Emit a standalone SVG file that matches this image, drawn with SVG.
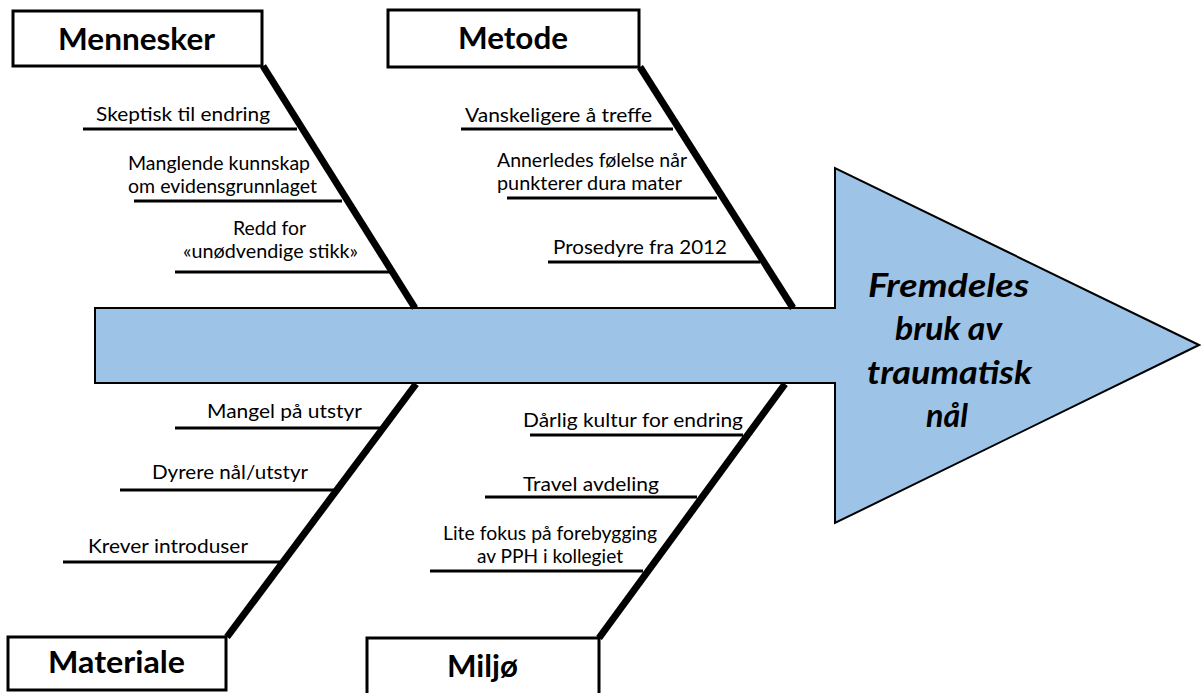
<svg xmlns="http://www.w3.org/2000/svg" width="1201" height="693" viewBox="0 0 1201 693">
<style>
.box{fill:#fff;stroke:#000;stroke-width:3}
.hd{font-family:Lato,"Liberation Sans",sans-serif;font-weight:bold;font-size:30px;fill:#000}
.lb{font-family:Lato,"Liberation Sans",sans-serif;font-size:19px;fill:#000}
.spine{stroke:#000;stroke-width:7;fill:none;stroke-linecap:butt}
.br{stroke:#000;stroke-width:3;fill:none}
.main{font-family:Lato,"Liberation Sans",sans-serif;font-weight:bold;font-style:italic;font-size:32px;fill:#000}
</style>
<rect width="1201" height="693" fill="#fff"/>
<g id="effect">
<polygon points="95,308 835,308 835,168 1199,345 835,523 835,383 95,383" fill="#9DC3E6" stroke="#000" stroke-width="2"/>
<text class="main" x="868" y="297" textLength="161" lengthAdjust="spacingAndGlyphs">Fremdeles</text>
<text class="main" x="895" y="340" textLength="107" lengthAdjust="spacingAndGlyphs">bruk av</text>
<text class="main" x="867" y="384" textLength="165" lengthAdjust="spacingAndGlyphs">traumatisk</text>
<text class="main" x="926" y="427" textLength="42" lengthAdjust="spacingAndGlyphs">nål</text>
</g>
<g id="connectors">
<line class="spine" x1="263" y1="66" x2="415" y2="308"/>
<line class="spine" x1="640" y1="67" x2="793" y2="308"/>
<line class="spine" x1="416" y1="384" x2="227" y2="637"/>
<line class="spine" x1="785" y1="384" x2="599" y2="638"/>
<line class="br" x1="83" y1="129" x2="297" y2="129"/>
<line class="br" x1="134" y1="201" x2="342" y2="201"/>
<line class="br" x1="175" y1="272" x2="390" y2="272"/>
<line class="br" x1="461" y1="129" x2="673" y2="129"/>
<line class="br" x1="507" y1="198" x2="717" y2="198"/>
<line class="br" x1="548" y1="262" x2="760" y2="262"/>
<line class="br" x1="175" y1="428" x2="385" y2="428"/>
<line class="br" x1="120" y1="490" x2="335" y2="490"/>
<line class="br" x1="63" y1="562" x2="280" y2="562"/>
<line class="br" x1="530" y1="435" x2="743" y2="435"/>
<line class="br" x1="485" y1="497" x2="697" y2="497"/>
<line class="br" x1="430" y1="571" x2="643" y2="571"/>
</g>
<g id="mennesker">
<rect class="box" x="13" y="11" width="249" height="55"/>
<text class="hd" x="58" y="50" textLength="157" lengthAdjust="spacingAndGlyphs">Mennesker</text>
<text class="lb" x="96" y="121" textLength="174" lengthAdjust="spacingAndGlyphs">Skeptisk til endring</text>
<text class="lb" x="128" y="170" textLength="182" lengthAdjust="spacingAndGlyphs">Manglende kunnskap</text>
<text class="lb" x="128" y="193" textLength="189" lengthAdjust="spacingAndGlyphs">om evidensgrunnlaget</text>
<text class="lb" x="233" y="235" textLength="73" lengthAdjust="spacingAndGlyphs">Redd for</text>
<text class="lb" x="183" y="258" textLength="175" lengthAdjust="spacingAndGlyphs">«unødvendige stikk»</text>
</g>
<g id="metode">
<rect class="box" x="388" y="10" width="251" height="57"/>
<text class="hd" x="458" y="49" textLength="110" lengthAdjust="spacingAndGlyphs">Metode</text>
<text class="lb" x="465" y="122" textLength="187" lengthAdjust="spacingAndGlyphs">Vanskeligere å treffe</text>
<text class="lb" x="497" y="167" textLength="190" lengthAdjust="spacingAndGlyphs">Annerledes følelse når</text>
<text class="lb" x="497" y="190" textLength="185" lengthAdjust="spacingAndGlyphs">punkterer dura mater</text>
<text class="lb" x="553" y="254" textLength="174" lengthAdjust="spacingAndGlyphs">Prosedyre fra 2012</text>
</g>
<g id="materiale">
<rect class="box" x="8" y="637" width="218" height="53"/>
<text class="hd" x="48" y="673" textLength="137" lengthAdjust="spacingAndGlyphs">Materiale</text>
<text class="lb" x="207" y="418" textLength="155" lengthAdjust="spacingAndGlyphs">Mangel på utstyr</text>
<text class="lb" x="152" y="479" textLength="156" lengthAdjust="spacingAndGlyphs">Dyrere nål/utstyr</text>
<text class="lb" x="88" y="553" textLength="160" lengthAdjust="spacingAndGlyphs">Krever introduser</text>
</g>
<g id="miljo">
<rect class="box" x="367" y="638" width="232" height="58"/>
<text class="hd" x="447" y="677" textLength="71" lengthAdjust="spacingAndGlyphs">Miljø</text>
<text class="lb" x="523" y="427" textLength="220" lengthAdjust="spacingAndGlyphs">Dårlig kultur for endring</text>
<text class="lb" x="523" y="491" textLength="136" lengthAdjust="spacingAndGlyphs">Travel avdeling</text>
<text class="lb" x="443" y="540" textLength="214" lengthAdjust="spacingAndGlyphs">Lite fokus på forebygging</text>
<text class="lb" x="477" y="563" textLength="146" lengthAdjust="spacingAndGlyphs">av PPH i kollegiet</text>
</g>
</svg>
